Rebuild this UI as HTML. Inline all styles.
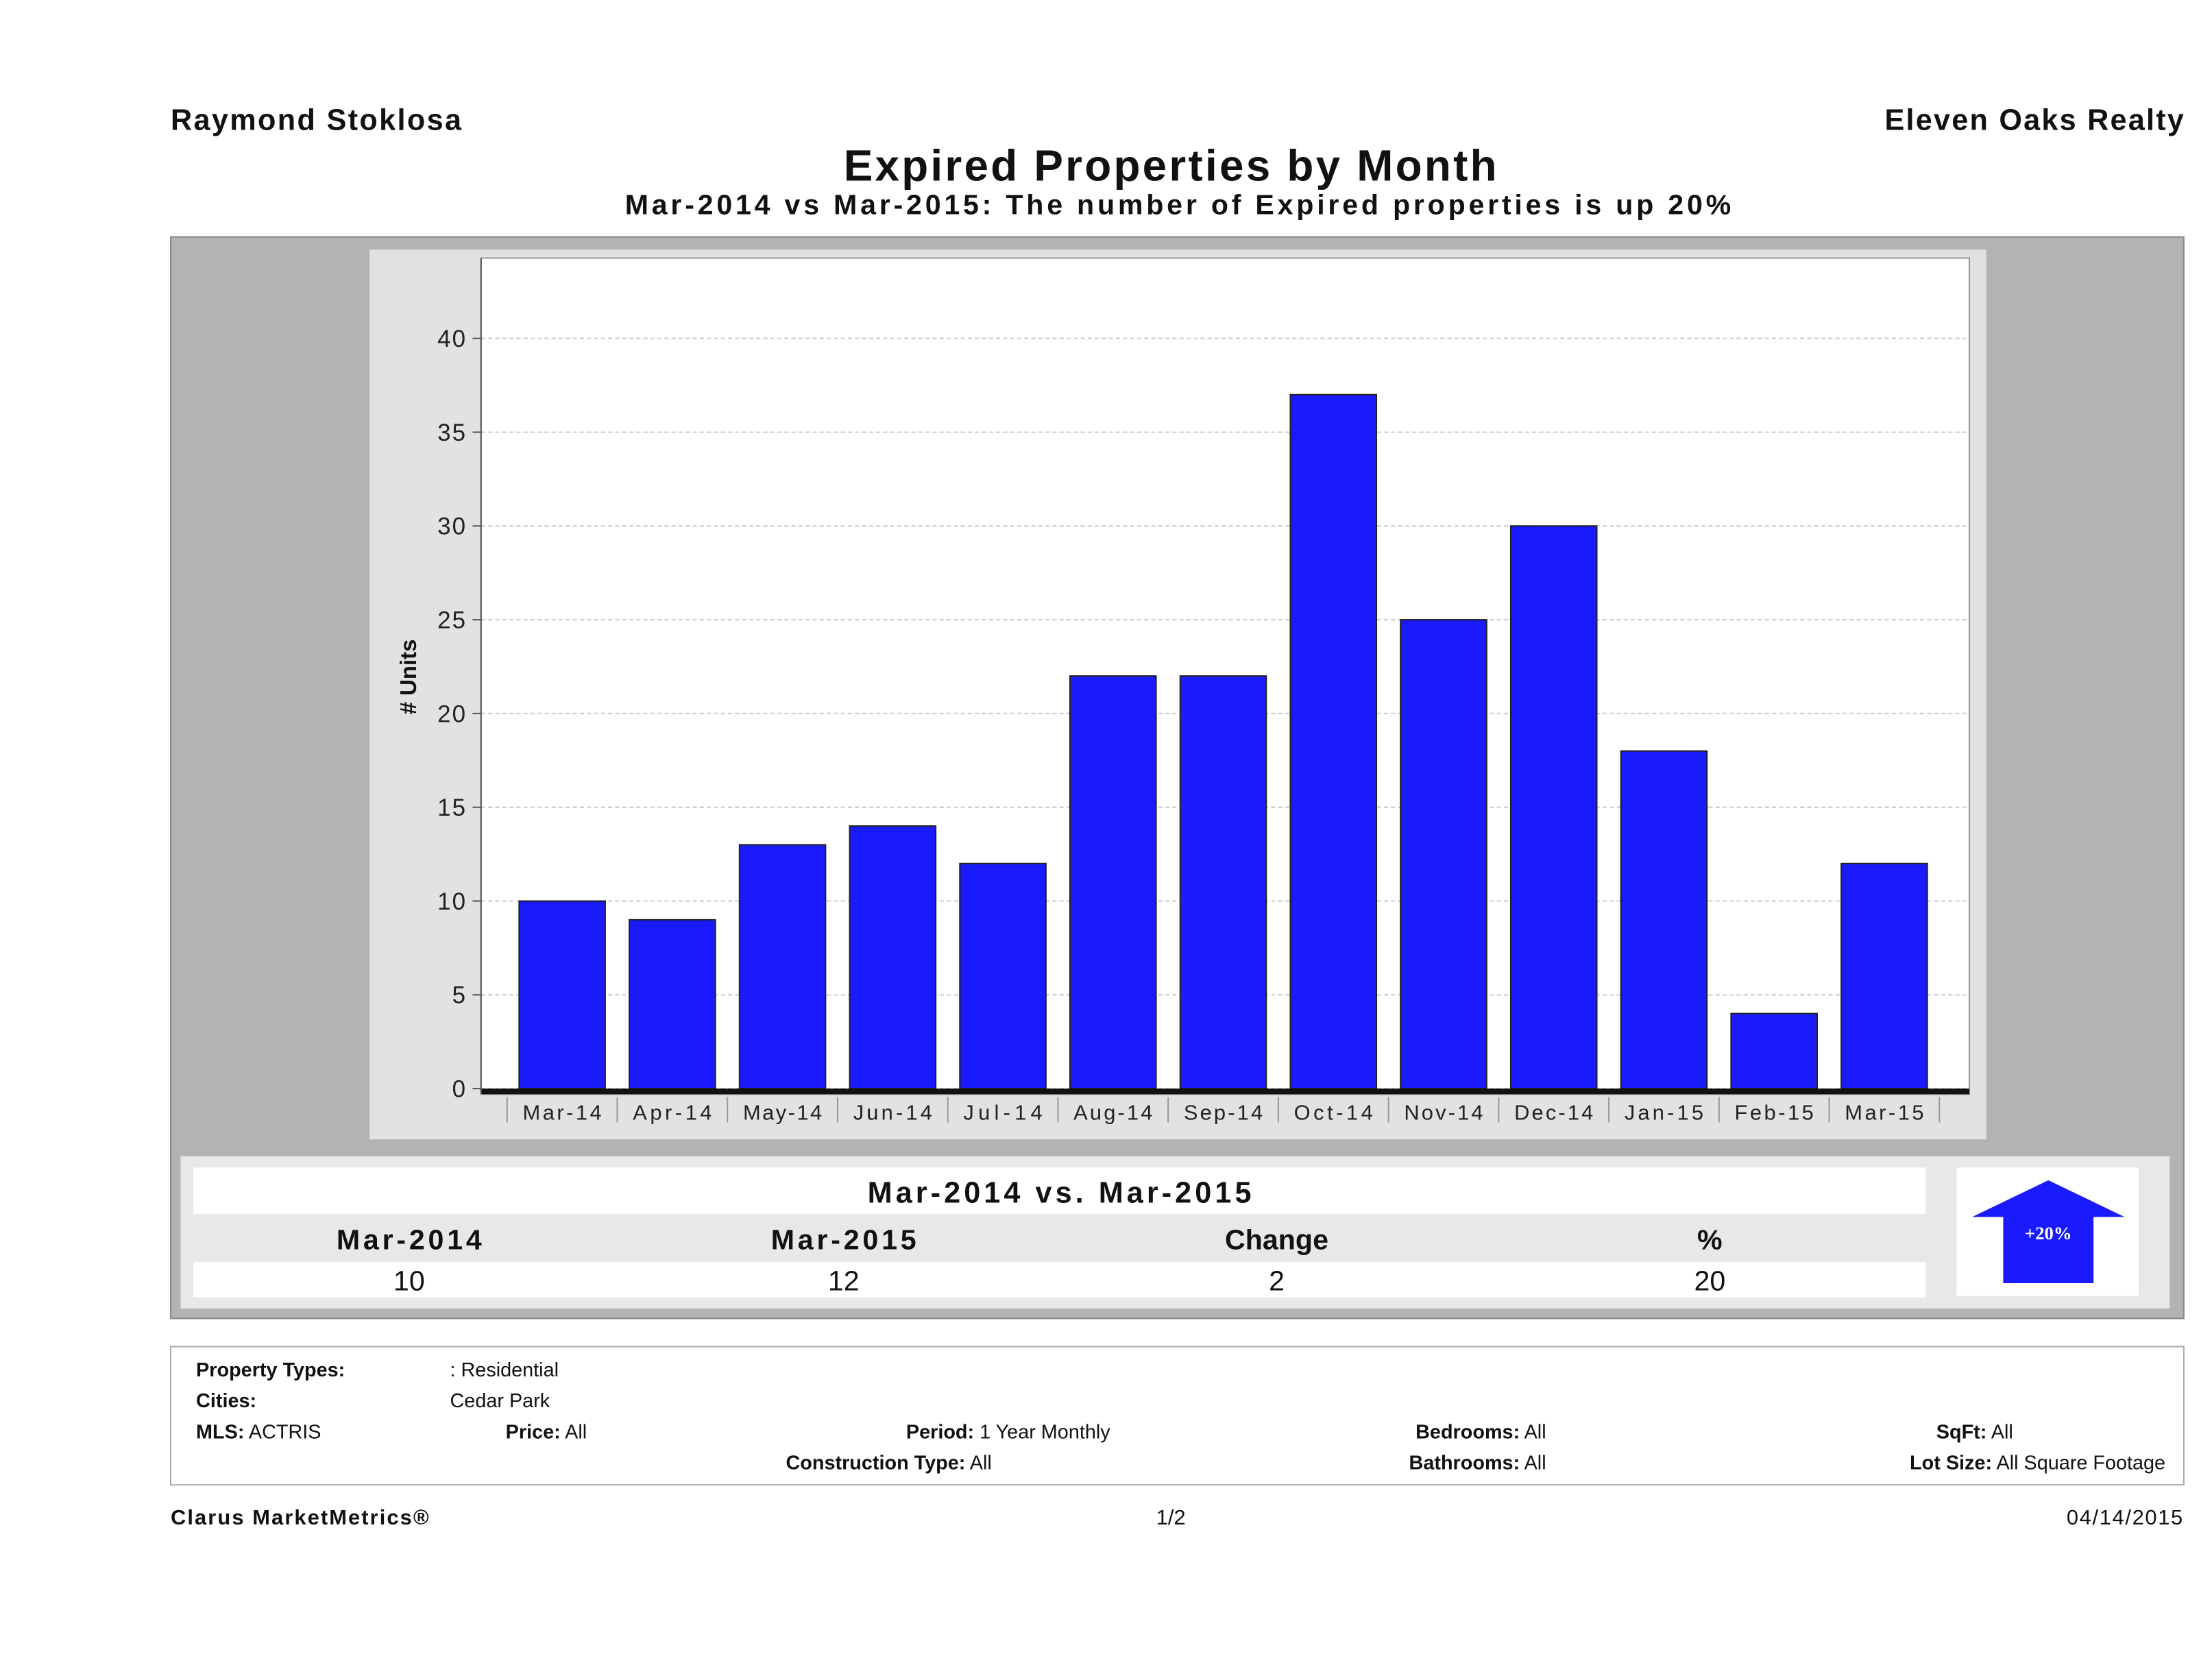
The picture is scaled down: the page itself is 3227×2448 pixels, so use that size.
<!DOCTYPE html>
<html><head><meta charset="utf-8"><style>
html,body{margin:0;padding:0;background:#fff;}
svg{display:block;font-family:"Liberation Sans",sans-serif;}
</style></head><body>
<svg id="page" width="3227" height="2448" viewBox="0 0 1568 1190" preserveAspectRatio="none">
<rect width="1568" height="1190" fill="#fff"/>
<text x="121" y="92" font-size="21" font-weight="bold" fill="#111" textLength="206">Raymond Stoklosa</text>
<text x="1548" y="92" font-size="21" font-weight="bold" fill="#111" text-anchor="end" textLength="212">Eleven Oaks Realty</text>
<text x="598" y="128" font-size="31" font-weight="bold" fill="#111" textLength="463">Expired Properties by Month</text>
<text x="443" y="152" font-size="20" font-weight="bold" fill="#111" textLength="784">Mar-2014 vs Mar-2015: The number of Expired  properties is up 20%</text>
<rect x="121" y="168" width="1427" height="767" fill="#b3b3b3" stroke="#888"/>
<rect x="262" y="177" width="1146" height="631" fill="#e2e2e2"/>
<rect x="341" y="183" width="1055" height="593" fill="#fff" stroke="#999"/>
<g id="grid"></g>
<g id="bars"></g>
<g id="xlabels"></g>
<line x1="341" y1="774" x2="1396" y2="774" stroke="#111" stroke-width="4"/>
<line x1="341" y1="183" x2="341" y2="776" stroke="#555"/>
<text transform="translate(295,480) rotate(-90)" font-size="16" font-weight="bold" fill="#111" text-anchor="middle"># Units</text>

<rect x="128" y="820" width="1410" height="108" fill="#e8e8e8"/>
<rect x="137" y="828" width="1228" height="33" fill="#fff"/>
<text x="751" y="853" font-size="21" font-weight="bold" fill="#111" text-anchor="middle" textLength="272">Mar-2014 vs. Mar-2015</text>
<text x="290" y="886" font-size="20" font-weight="bold" fill="#111" text-anchor="middle" textLength="103">Mar-2014</text>
<text x="598" y="886" font-size="20" font-weight="bold" fill="#111" text-anchor="middle" textLength="103">Mar-2015</text>
<text x="905" y="886" font-size="20" font-weight="bold" fill="#111" text-anchor="middle">Change</text>
<text x="1212" y="886" font-size="20" font-weight="bold" fill="#111" text-anchor="middle">%</text>
<rect x="137" y="895" width="1228" height="25" fill="#fff"/>
<text x="290" y="915" font-size="20" fill="#111" text-anchor="middle">10</text>
<text x="598" y="915" font-size="20" fill="#111" text-anchor="middle">12</text>
<text x="905" y="915" font-size="20" fill="#111" text-anchor="middle">2</text>
<text x="1212" y="915" font-size="20" fill="#111" text-anchor="middle">20</text>
<rect x="1387" y="828" width="129" height="91" fill="#fff"/>
<polygon points="1452,837 1506,863 1484,863 1484,910 1420,910 1420,863 1398,863" fill="#1a1aff"/>
<text x="1452" y="879" font-size="13" font-weight="bold" fill="#fff" text-anchor="middle" font-family="Liberation Serif,serif">+20%</text>

<rect x="121" y="955" width="1427" height="98" fill="#fff" stroke="#aaa"/>
<g font-size="14" fill="#111">
<text x="139" y="976" font-weight="bold">Property Types:</text>
<text x="319" y="976">: Residential</text>
<text x="139" y="998" font-weight="bold">Cities:</text>
<text x="319" y="998">Cedar Park</text>
<text x="139" y="1020"><tspan font-weight="bold">MLS:</tspan>   ACTRIS</text>
<text x="416" y="1020" text-anchor="end"><tspan font-weight="bold">Price:</tspan> All</text>
<text x="787" y="1020" text-anchor="end"><tspan font-weight="bold">Period:</tspan> 1 Year Monthly</text>
<text x="703" y="1042" text-anchor="end"><tspan font-weight="bold">Construction Type:</tspan> All</text>
<text x="1096" y="1020" text-anchor="end"><tspan font-weight="bold">Bedrooms:</tspan> All</text>
<text x="1096" y="1042" text-anchor="end"><tspan font-weight="bold">Bathrooms:</tspan> All</text>
<text x="1427" y="1020" text-anchor="end"><tspan font-weight="bold">SqFt:</tspan>  All</text>
<text x="1535" y="1042" text-anchor="end"><tspan font-weight="bold">Lot Size:</tspan>  All Square Footage</text>
</g>
<text x="121" y="1081" font-size="15" font-weight="bold" fill="#111" textLength="183">Clarus MarketMetrics®</text>
<text x="830" y="1081" font-size="15" fill="#111" text-anchor="middle">1/2</text>
<text x="1548" y="1081" font-size="15" fill="#111" text-anchor="end" letter-spacing="0.8">04/14/2015</text>
</svg>
<script>
const categories = ["Mar-14","Apr-14","May-14","Jun-14","Jul-14","Aug-14","Sep-14","Oct-14","Nov-14","Dec-14","Jan-15","Feb-15","Mar-15"];
const values = [10,9,13,14,12,22,22,37,25,30,18,4,12];
const yTicks = [0,5,10,15,20,25,30,35,40];
const NS = "http://www.w3.org/2000/svg";
const y = v => 772 - v * 13.3;
const step = 78.1;
const x = i => 368 + i * step;
const bw = 61;
const grid = document.getElementById('grid');
yTicks.forEach(t => {
  const l = document.createElementNS(NS,'line');
  l.setAttribute('x1',341); l.setAttribute('x2',1396);
  l.setAttribute('y1',y(t)); l.setAttribute('y2',y(t));
  l.setAttribute('stroke','#ccc'); l.setAttribute('stroke-dasharray','3,2');
  
  
  grid.appendChild(l);
  const tk = document.createElementNS(NS,'line');
  tk.setAttribute('x1',335); tk.setAttribute('x2',341);
  tk.setAttribute('y1',y(t)); tk.setAttribute('y2',y(t));
  tk.setAttribute('stroke','#555');
  
  
  grid.appendChild(tk);
  const tx = document.createElementNS(NS,'text');
  tx.setAttribute('x',331); tx.setAttribute('y',y(t)+6);
  tx.setAttribute('text-anchor','end'); tx.setAttribute('font-size','17'); tx.setAttribute('fill','#222');
  tx.setAttribute('letter-spacing','1');
  tx.textContent = t;
  
  
  grid.appendChild(tx);
});
const bars = document.getElementById('bars');
const xl = document.getElementById('xlabels');
values.forEach((v,i) => {
  const r = document.createElementNS(NS,'rect');
  r.setAttribute('x',x(i)); r.setAttribute('y',y(v));
  r.setAttribute('width',bw); r.setAttribute('height',772-y(v));
  r.setAttribute('fill','#1a1aff'); r.setAttribute('stroke','#222'); r.setAttribute('stroke-width','1');
  
  
  bars.appendChild(r);
  const t = document.createElementNS(NS,'text');
  t.setAttribute('x',x(i)+bw/2); t.setAttribute('y',794);
  t.setAttribute('text-anchor','middle'); t.setAttribute('font-size','15'); t.setAttribute('fill','#222');
  t.setAttribute('textLength','56');
  t.textContent = categories[i];
  
  
  xl.appendChild(t);
  const s = document.createElementNS(NS,'line');
  const sx = x(i) - (step-bw)/2;
  s.setAttribute('x1',sx); s.setAttribute('x2',sx); s.setAttribute('y1',778); s.setAttribute('y2',796);
  s.setAttribute('stroke','#999');
  
  
  xl.appendChild(s);
});
const last = document.createElementNS(NS,'line');
const lx = x(values.length-1) + bw + (step-bw)/2;
last.setAttribute('x1',lx); last.setAttribute('x2',lx); last.setAttribute('y1',778); last.setAttribute('y2',796);
last.setAttribute('stroke','#999');


xl.appendChild(last);
</script>
</body></html>
